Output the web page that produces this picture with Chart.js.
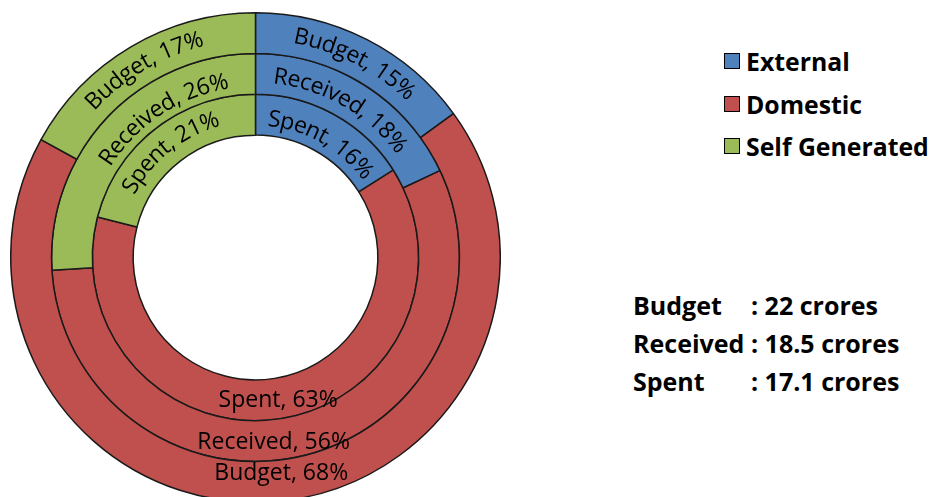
<!DOCTYPE html>
<html>
<head>
<meta charset="utf-8">
<script src="https://cdn.jsdelivr.net/npm/chart.js@4"></script>
<style>
    html, body {
        margin: 0;
        padding: 0;
        width: 933px;
        height: 497px;
        overflow: hidden;
        background: #ffffff;
        font-family: 'Open Sans', sans-serif;
    }
    .chart-box {
        position: absolute;
        left: 10px;
        top: 12px;
        width: 491px;
        height: 491px;
    }
    .legend {
        position: absolute;
        left: 724px;
        top: 40px;
    }
    .legend-item {
        display: flex;
        align-items: center;
        height: 42.5px;
        font-weight: bold;
        font-size: 24.8px;
        color: #000;
    }
    .legend-swatch {
        width: 14px;
        height: 14px;
        border: 1.5px solid #000;
        margin-right: 6px;
    }
    .totals {
        position: absolute;
        left: 633px;
        top: 286px;
        font-weight: bold;
        font-size: 25px;
        color: #000;
    }
    .totals-row {
        display: flex;
        height: 38px;
        align-items: center;
    }
    .totals-name {
        width: 118px;
    }
</style>
</head>
<body>
<div class="chart-box"><canvas id="fundChart"></canvas></div>
<div class="legend" id="legend"></div>
<div class="totals" id="totals"></div>

<script>
// Data
const categories = ['External', 'Domestic', 'Self Generated'];
const ringNames = ['Budget', 'Received', 'Spent'];
const budgetShare = [15, 68, 17];
const receivedShare = [18, 56, 26];
const spentShare = [16, 63, 21];
const totalsCrores = ['22', '18.5', '17.1'];

const colors = ['#4F81BD', '#C0504D', '#9BBB59'];

// small manual nudges for the ring labels (degrees / px), per ring then per slice
const labelNudge = {
    angle: [[0, -3.2, 0], [-2.6, 8.8, 13.4], [1, 0, -1]],
    radius: [[0, -7, 0], [-2, 2, -6], [-4, 2, 0]]
};

function drawArcText(ctx, text, cx, cy, r, midA) {
    const total = ctx.measureText(text).width;
    let a = midA - total / (2 * r);
    for (const ch of text) {
        const w = ctx.measureText(ch).width;
        const ca = a + w / (2 * r);
        ctx.save();
        ctx.translate(cx + r * Math.cos(ca), cy + r * Math.sin(ca));
        ctx.rotate(ca + Math.PI / 2);
        ctx.fillText(ch, 0, 0);
        ctx.restore();
        a += w / r;
    }
}

const ringLabels = {
    id: 'ringLabels',
    afterDatasetsDraw(chart) {
        const ctx = chart.ctx;
        ctx.save();
        ctx.font = '23px "Open Sans"';
        ctx.fillStyle = '#000';
        ctx.textAlign = 'center';
        ctx.textBaseline = 'middle';
        chart.data.datasets.forEach((ds, d) => {
            const meta = chart.getDatasetMeta(d);
            meta.data.forEach((arc, i) => {
                const p = arc.getProps(['x', 'y', 'startAngle', 'endAngle', 'innerRadius', 'outerRadius'], true);
                const mid = (p.startAngle + p.endAngle) / 2 + labelNudge.angle[d][i] * Math.PI / 180;
                const r = (p.innerRadius + p.outerRadius) / 2 + labelNudge.radius[d][i];
                const text = ringNames[d] + ', ' + ds.data[i] + '%';
                // angle measured from the top, clockwise
                const fromTop = ((mid + Math.PI / 2) * 180 / Math.PI + 360) % 360;
                if (fromTop > 100 && fromTop < 260) {
                    ctx.fillText(text, p.x + r * Math.cos(mid), p.y + r * Math.sin(mid));
                } else {
                    drawArcText(ctx, text, p.x, p.y, r, mid);
                }
            });
        });
        ctx.restore();
    }
};

const shares = [budgetShare, receivedShare, spentShare];

const ctx = document.getElementById('fundChart').getContext('2d');
const chart = new Chart(ctx, {
    type: 'doughnut',
    data: {
        labels: categories,
        datasets: shares.map((s, d) => ({
            label: ringNames[d],
            data: s,
            backgroundColor: colors,
            borderColor: '#1a1a1a',
            borderWidth: 1.5,
            hoverBorderWidth: 1.5
        }))
    },
    options: {
        responsive: true,
        maintainAspectRatio: false,
        animation: false,
        cutout: '50%',
        layout: { padding: 0 },
        plugins: {
            legend: { display: false },
            tooltip: { enabled: false }
        }
    },
    plugins: [ringLabels]
});

// Legend
const legend = document.getElementById('legend');
categories.forEach((c, i) => {
    const item = document.createElement('div');
    item.className = 'legend-item';
    item.innerHTML = `<span class="legend-swatch" style="background:${colors[i]}"></span><span>${c}</span>`;
    legend.appendChild(item);
});

// Totals
const totals = document.getElementById('totals');
ringNames.forEach((n, i) => {
    const row = document.createElement('div');
    row.className = 'totals-row';
    row.innerHTML = `<span class="totals-name">${n}</span><span>: ${totalsCrores[i]} crores</span>`;
    totals.appendChild(row);
});
</script>
</body>
</html>
